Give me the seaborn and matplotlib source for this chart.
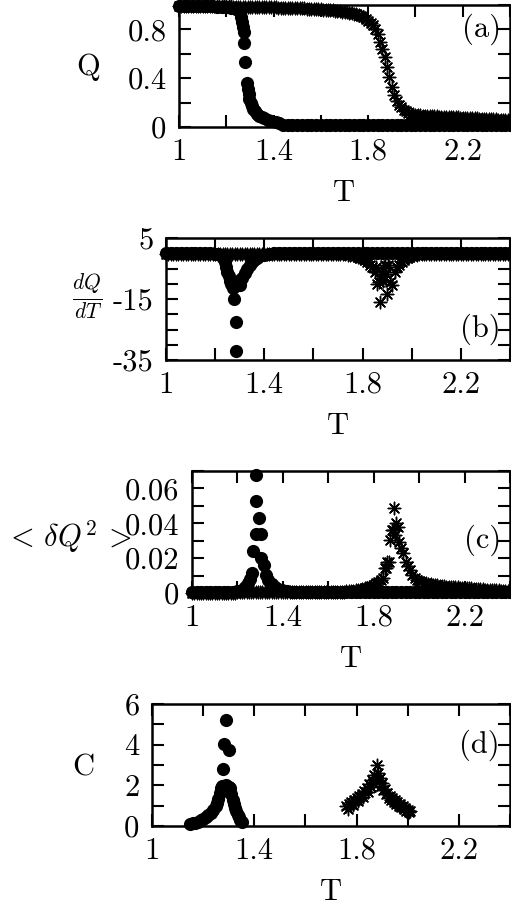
import numpy as np
import pandas as pd
import matplotlib
matplotlib.use("Agg")
from matplotlib import pyplot as plt
import seaborn as sns

# ---------------- data ----------------
# temperature grid of the asterisk run (panels a-c)
t_star = [
    1.00, 1.01, 1.02, 1.03, 1.04, 1.05, 1.06, 1.07, 1.08, 1.09,
    1.10, 1.11, 1.12, 1.13, 1.14, 1.15, 1.16, 1.17, 1.18, 1.19,
    1.20, 1.21, 1.22, 1.23, 1.24, 1.25, 1.26, 1.27, 1.28, 1.29,
    1.30, 1.31, 1.32, 1.33, 1.34, 1.35, 1.36, 1.37, 1.38, 1.39,
    1.40, 1.41, 1.42, 1.43, 1.44, 1.45, 1.46, 1.47, 1.48, 1.49,
    1.50, 1.51, 1.52, 1.53, 1.54, 1.55, 1.56, 1.57, 1.58, 1.59,
    1.60, 1.61, 1.62, 1.63, 1.64, 1.65, 1.66, 1.67, 1.68, 1.69,
    1.70, 1.71, 1.72, 1.73, 1.74, 1.75, 1.76, 1.77, 1.78, 1.79,
    1.80, 1.81, 1.82, 1.83, 1.84, 1.85, 1.86, 1.87, 1.88, 1.89,
    1.90, 1.91, 1.92, 1.93, 1.94, 1.95, 1.96, 1.97, 1.98, 1.99,
    2.00, 2.01, 2.02, 2.03, 2.04, 2.05, 2.06, 2.07, 2.08, 2.09,
    2.10, 2.11, 2.12, 2.13, 2.14, 2.15, 2.16, 2.17, 2.18, 2.19,
    2.20, 2.21, 2.22, 2.23, 2.24, 2.25, 2.26, 2.27, 2.28, 2.29,
    2.30, 2.31, 2.32, 2.33, 2.34, 2.35, 2.36, 2.37, 2.38, 2.39,
    2.40]

# (a) Q, asterisks
q_star = [
    0.995, 0.995, 0.994, 0.994, 0.994, 0.993, 0.993, 0.993, 0.992, 0.992,
    0.992, 0.991, 0.991, 0.991, 0.990, 0.990, 0.990, 0.989, 0.989, 0.989,
    0.988, 0.988, 0.988, 0.987, 0.987, 0.987, 0.986, 0.986, 0.986, 0.985,
    0.985, 0.984, 0.984, 0.984, 0.983, 0.983, 0.982, 0.982, 0.981, 0.981,
    0.980, 0.980, 0.979, 0.979, 0.978, 0.978, 0.977, 0.976, 0.976, 0.975,
    0.974, 0.974, 0.973, 0.972, 0.971, 0.970, 0.969, 0.968, 0.967, 0.966,
    0.965, 0.963, 0.962, 0.960, 0.958, 0.956, 0.954, 0.951, 0.948, 0.945,
    0.942, 0.939, 0.936, 0.933, 0.929, 0.924, 0.918, 0.910, 0.900, 0.887,
    0.870, 0.855, 0.835, 0.800, 0.760, 0.700, 0.640, 0.570, 0.490, 0.410,
    0.330, 0.260, 0.210, 0.180, 0.160, 0.140, 0.128, 0.118, 0.110, 0.105,
    0.101, 0.098, 0.096, 0.094, 0.092, 0.091, 0.090, 0.089, 0.088, 0.087,
    0.086, 0.085, 0.084, 0.083, 0.082, 0.081, 0.080, 0.079, 0.078, 0.077,
    0.076, 0.075, 0.074, 0.073, 0.072, 0.071, 0.070, 0.069, 0.068, 0.067,
    0.066, 0.065, 0.064, 0.063, 0.062, 0.061, 0.060, 0.059, 0.058, 0.057,
    0.056]

# (b) dQ/dT, asterisks
dq_star = (
    [-0.1] * 60
    + [-0.2, -0.2, -0.2, -0.2, -0.2, -0.2, -0.3, -0.3, -0.3, -0.3]
    + [-0.3, -0.3, -0.3, -0.4, -0.5, -0.6, -0.7, -0.9, -1.1, -1.5]
    + [-1.7, -2.2, -2.8, -3.9, -4.5, -6.0, -10.0, -16.0, -7.2, -4.0]
    + [-13.3, -9.4, -10.5, -6.0, -4.5, -4.0, -3.0, -2.2, -1.6, -1.2]
    + [-0.9, -0.7, -0.5, -0.4, -0.3, -0.3, -0.2, -0.2, -0.2, -0.2]
    + [-0.1] * 31)
dq_star_extra_t = [1.855, 1.865, 1.875, 1.885, 1.895, 1.905]
dq_star_extra = [-4.5, -9.4, -6.2, -9.0, -6.7, -4.0]

# (c) <dQ^2>, asterisks
var_star = (
    [0.0002] * 20 + [0.0003] * 30 + [0.0004] * 10
    + [0.0005, 0.0005, 0.0006, 0.0006, 0.0007, 0.0007, 0.0008, 0.0008, 0.0009, 0.0010]
    + [0.0012, 0.0013, 0.0015, 0.0017, 0.0019, 0.0022, 0.0026, 0.0030, 0.0035, 0.0040]
    + [0.0046, 0.0055, 0.0065, 0.0075, 0.0084, 0.0142, 0.0180, 0.0304, 0.0360, 0.0486]
    + [0.0400, 0.0294, 0.0260, 0.0228, 0.0180, 0.0155, 0.0130, 0.0103, 0.0088, 0.0075]
    + [0.0066, 0.0061, 0.0058, 0.0055, 0.0052, 0.0050, 0.0048, 0.0046, 0.0044, 0.0042]
    + [0.0040, 0.0038, 0.0037, 0.0036, 0.0035, 0.0034, 0.0033, 0.0032, 0.0031, 0.0030]
    + [0.0029, 0.0028, 0.0027, 0.0026, 0.0025, 0.0024, 0.0023, 0.0022, 0.0021, 0.0020]
    + [0.0019, 0.0018, 0.0017, 0.0016, 0.0015, 0.0015, 0.0014, 0.0014, 0.0013, 0.0013]
    + [0.0012])
var_star_extra_t = [1.867, 1.885, 1.895, 1.852, 1.905]
var_star_extra = [0.0180, 0.0360, 0.0330, 0.0142, 0.0380]

# flat high-T tail shared by the circle run
t_tail = [
    1.44, 1.46, 1.48, 1.50, 1.52, 1.54, 1.56, 1.58, 1.60, 1.62,
    1.64, 1.66, 1.68, 1.70, 1.72, 1.74, 1.76, 1.78, 1.80, 1.82,
    1.84, 1.86, 1.88, 1.90, 1.92, 1.94, 1.96, 1.98, 2.00, 2.02,
    2.04, 2.06, 2.08, 2.10, 2.12, 2.14, 2.16, 2.18, 2.20, 2.22,
    2.24, 2.26, 2.28, 2.30, 2.32, 2.34, 2.36, 2.38, 2.40]

# (a) Q, circles
t_circ_a = [1.00, 1.02, 1.04, 1.06, 1.08, 1.10, 1.12, 1.14, 1.16, 1.18,
            1.20, 1.22, 1.24, 1.25, 1.256, 1.262, 1.266, 1.270, 1.273, 1.277,
            1.281, 1.286, 1.290, 1.294, 1.298, 1.303, 1.308, 1.315, 1.322, 1.330,
            1.340, 1.350, 1.360, 1.375, 1.390, 1.410, 1.425] + t_tail
q_circ = [0.995, 0.994, 0.993, 0.992, 0.991, 0.990, 0.989, 0.988, 0.986, 0.984,
          0.981, 0.976, 0.968, 0.960, 0.940, 0.905, 0.860, 0.820, 0.780, 0.690,
          0.535, 0.360, 0.310, 0.270, 0.230, 0.200, 0.170, 0.150, 0.130, 0.110,
          0.090, 0.080, 0.070, 0.060, 0.050, 0.040, 0.030] + [0.020] * 49

# (b) dQ/dT, circles
t_circ_b = [1.00, 1.02, 1.04, 1.06, 1.08, 1.10, 1.12, 1.14, 1.16, 1.18,
            1.20, 1.21, 1.22, 1.23, 1.24, 1.245, 1.25, 1.255, 1.26, 1.265,
            1.272, 1.278, 1.285, 1.285, 1.295, 1.302, 1.31, 1.32, 1.33, 1.34,
            1.35, 1.36, 1.37, 1.38, 1.40, 1.42] + t_tail
dq_circ = [0.0, 0.0, 0.0, 0.0, 0.0, 0.0, 0.0, 0.0, 0.0, 0.0,
           -0.1, -0.3, -0.6, -1.5, -3.0, -4.5, -6.0, -7.5, -9.0, -10.0,
           -11.5, -14.9, -22.5, -32.0, -9.0, -10.5, -8.0, -6.5, -5.2, -4.0,
           -3.0, -2.2, -1.5, -1.0, -0.5, -0.2] + [0.0] * 49

# (c) <dQ^2>, circles
t_circ_c = [1.00, 1.02, 1.04, 1.06, 1.08, 1.10, 1.12, 1.14, 1.16, 1.18,
            1.20, 1.22, 1.235, 1.245, 1.255, 1.264, 1.268, 1.281, 1.281, 1.283,
            1.296, 1.305, 1.305, 1.317, 1.325, 1.336, 1.350, 1.366, 1.380, 1.396,
            1.42] + t_tail
var_circ = [0.0005, 0.0005, 0.0005, 0.0005, 0.0005, 0.0005, 0.0005, 0.0005, 0.0005, 0.0008,
            0.0012, 0.0020, 0.0035, 0.0055, 0.0080, 0.0113, 0.0241, 0.0337, 0.0677, 0.0528,
            0.0432, 0.0337, 0.0199, 0.0161, 0.0103, 0.0075, 0.0050, 0.0036, 0.0025, 0.0017,
            0.0010] + [0.0005] * 49

# (d) C, circles
t_circ_d = [1.150, 1.160, 1.170, 1.180, 1.190, 1.200, 1.210, 1.220, 1.230, 1.240,
            1.250, 1.255, 1.260, 1.265, 1.270, 1.272, 1.278, 1.282, 1.288, 1.290,
            1.300, 1.300, 1.304, 1.310, 1.315, 1.320, 1.325, 1.330, 1.335, 1.340,
            1.345, 1.350]
c_circ = [0.12, 0.14, 0.17, 0.22, 0.28, 0.34, 0.42, 0.52, 0.64, 0.80,
          0.98, 1.15, 1.35, 1.60, 1.85, 1.95, 2.80, 4.02, 5.22, 2.00,
          3.74, 1.93, 1.85, 1.55, 1.30, 1.10, 0.90, 0.72, 0.55, 0.42,
          0.30, 0.22]

# (d) C, asterisks
t_star_d = [1.760, 1.765, 1.770, 1.780, 1.785, 1.790, 1.800, 1.805, 1.810, 1.820,
            1.825, 1.830, 1.840, 1.845, 1.850, 1.855, 1.860, 1.865, 1.870, 1.875,
            1.880, 1.885, 1.890, 1.895, 1.900, 1.905, 1.910, 1.915, 1.920, 1.925,
            1.930, 1.935, 1.940, 1.945, 1.950, 1.955, 1.960, 1.965, 1.970, 1.975,
            1.980, 1.985, 1.990, 1.995, 2.000, 2.005, 2.010]
c_star = [1.00, 0.85, 1.10, 1.20, 1.05, 1.30, 1.38, 1.22, 1.48, 1.58,
          1.45, 1.70, 1.85, 1.65, 2.05, 1.90, 2.25, 2.10, 2.50, 2.30,
          3.00, 2.60, 2.35, 1.95, 2.10, 1.75, 1.80, 1.55, 1.62, 1.40,
          1.50, 1.30, 1.38, 1.20, 1.28, 1.10, 1.18, 1.00, 1.08, 0.92,
          0.98, 0.82, 0.88, 0.75, 0.80, 0.68, 0.72]

x_ticks = [1.0, 1.2, 1.4, 1.6, 1.8, 2.0, 2.2, 2.4]
x_labels = ['1', '', '1.4', '', '1.8', '', '2.2', '']

# ---------------- style ----------------
sns.set_style('ticks')
plt.rcParams['font.family'] = ['cmr10', 'DejaVu Serif']
plt.rcParams['mathtext.fontset'] = 'cm'
plt.rcParams['axes.unicode_minus'] = False
for k in ['text.color', 'axes.labelcolor', 'xtick.color', 'ytick.color', 'axes.edgecolor']:
    plt.rcParams[k] = 'black'

FS = 22

fig = plt.figure(figsize=(5.11, 9.09), dpi=100)


def draw_panel(rect, t_c, v_c, t_s, v_s, ylim, yticks, ylabels, ylab, ylab_xy, tag, tag_y):
    ax = fig.add_axes(rect)
    sns.scatterplot(x=t_c, y=v_c, ax=ax, marker='o', s=90, color='black',
                    edgecolor='black', linewidth=0, clip_on=False, zorder=3)
    sns.scatterplot(x=t_s, y=v_s, ax=ax, marker=(8, 2, 0), s=80, color='black',
                    linewidth=1.05, clip_on=False, zorder=3)
    ax.set_xlim(1.0, 2.4)
    ax.set_ylim(*ylim)
    ax.set_xticks(x_ticks)
    ax.set_xticklabels(x_labels, fontsize=FS)
    ax.set_yticks(yticks)
    ax.set_yticklabels(ylabels, fontsize=FS)
    ax.tick_params(direction='in', length=8.5, width=1.5, top=True, right=True)
    ax.tick_params(axis='x', pad=8)
    ax.tick_params(axis='y', pad=9)
    for sp in ax.spines.values():
        sp.set_linewidth(1.8)
        sp.set_zorder(4)
    ax.set_xlabel('T', fontsize=FS, va='center')
    ax.xaxis.set_label_coords(0.5, -0.54)
    ax.set_ylabel(ylab, fontsize=FS, rotation=0, ha='center', va='center')
    ax.yaxis.set_label_coords(*ylab_xy)
    ax.text(0.972, tag_y, tag, transform=ax.transAxes, ha='right', va='center', fontsize=FS)
    return ax


H = 122 / 909

ax_a = draw_panel([179 / 511, 1 - 127 / 909, 331 / 511, H],
                  t_circ_a, q_circ, t_star, q_star,
                  (0, 1), [0, 0.2, 0.4, 0.6, 0.8, 1.0], ['0', '', '0.4', '', '0.8', ''],
                  'Q', (-0.275, 0.49), '(a)', 0.80)

ax_b = draw_panel([166 / 511, 1 - 360 / 909, 344 / 511, H],
                  t_circ_b, dq_circ, t_star + dq_star_extra_t, dq_star + dq_star_extra,
                  (-35, 5), [5, 0, -5, -10, -15, -20, -25, -30, -35],
                  ['5', '', '', '', '-15', '', '', '', '-35'],
                  r'$\frac{dQ}{dT}$', (-0.23, 0.52), '(b)', 0.25)

ax_c = draw_panel([192 / 511, 1 - 593 / 909, 318 / 511, H],
                  t_circ_c, var_circ, t_star + var_star_extra_t, var_star + var_star_extra,
                  (0, 0.07), [0, 0.01, 0.02, 0.03, 0.04, 0.05, 0.06, 0.07],
                  ['0', '', '0.02', '', '0.04', '', '0.06', ''],
                  r'$<\,\delta Q^2\,>$', (-0.39, 0.46), '(c)', 0.43)

ax_d = draw_panel([152 / 511, 1 - 826 / 909, 358 / 511, H],
                  t_circ_d, c_circ, t_star_d, c_star,
                  (0, 6), [0, 1, 2, 3, 4, 5, 6], ['0', '', '2', '', '4', '', '6'],
                  'C', (-0.193, 0.475), '(d)', 0.66)

fig.savefig('out.png', dpi=100)
